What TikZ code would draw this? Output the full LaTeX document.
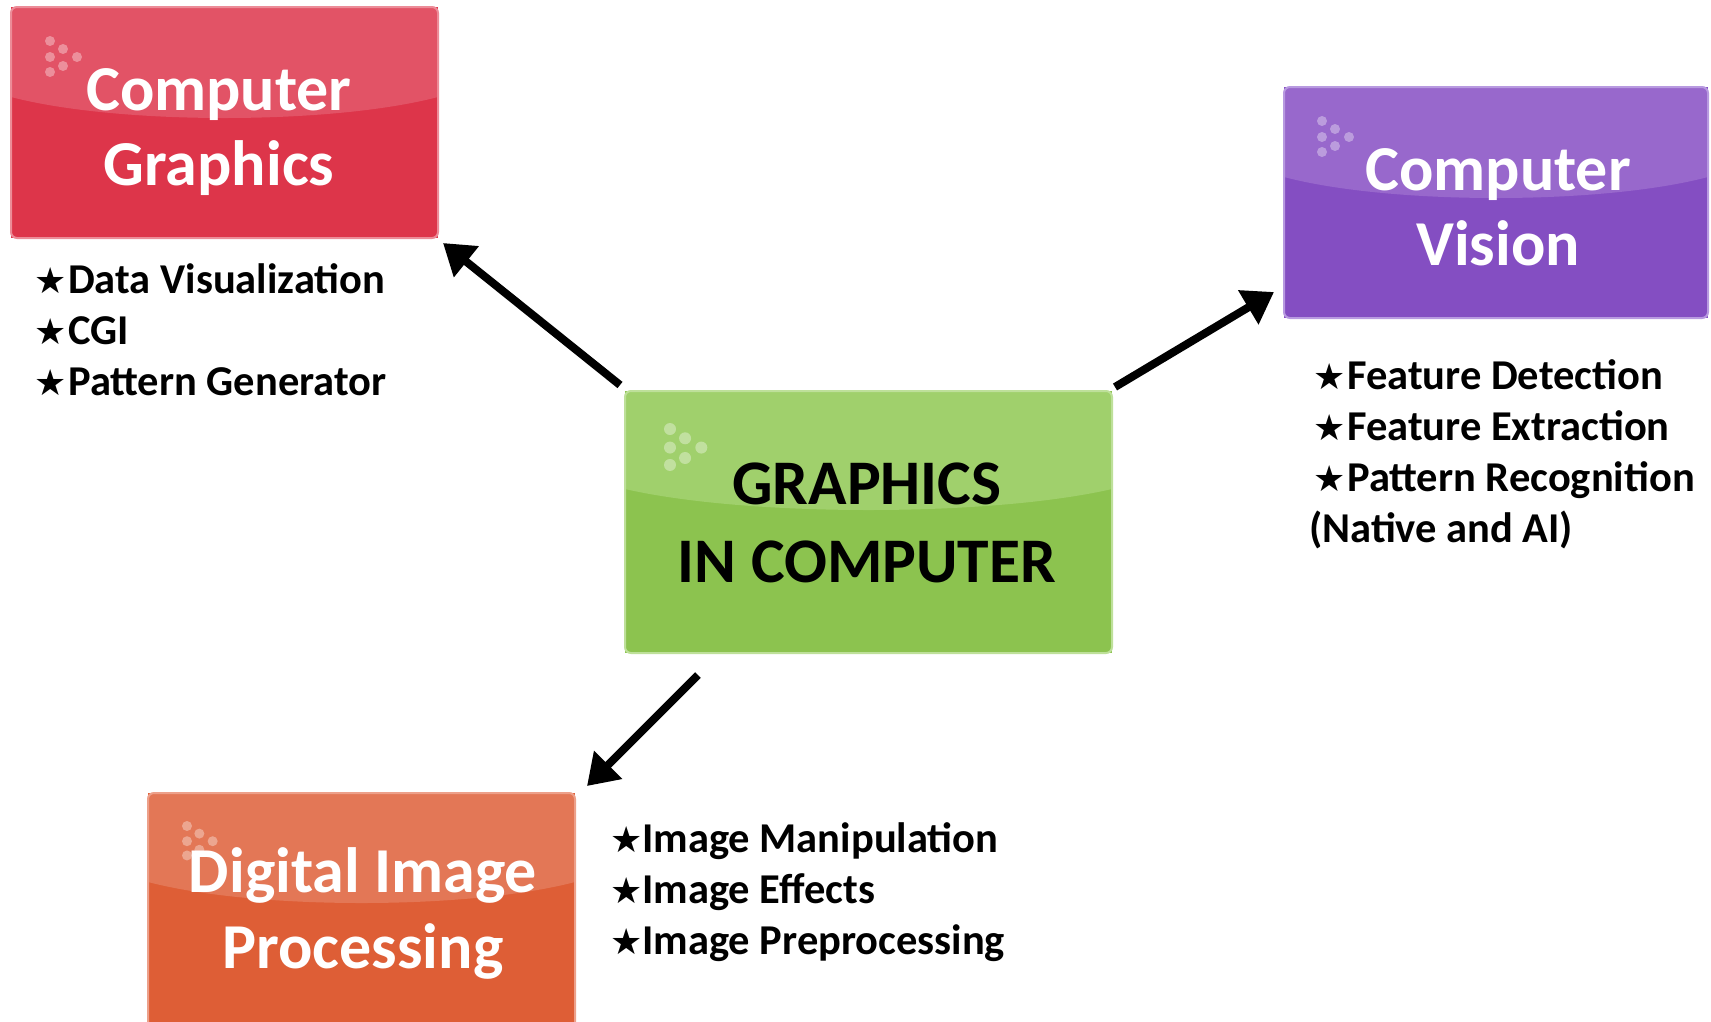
\documentclass[tikz,border=0pt]{standalone}
\usepackage{fontspec}
\setmainfont{Carlito}
\newfontfamily\symfont{DejaVu Sans}
\usetikzlibrary{arrows.meta}

\definecolor{redlo}{HTML}{DD354A}
\definecolor{redhi}{HTML}{E25366}
\definecolor{redrim}{HTML}{EC8C98}
\definecolor{grnlo}{HTML}{8CC34F}
\definecolor{grnhi}{HTML}{A0D06C}
\definecolor{grnrim}{HTML}{BEE09A}
\definecolor{purlo}{HTML}{844EC2}
\definecolor{purhi}{HTML}{9868CC}
\definecolor{purrim}{HTML}{B89AE0}
\definecolor{orglo}{HTML}{DE5E36}
\definecolor{orghi}{HTML}{E37756}
\definecolor{orgrim}{HTML}{EDA08A}

\tikzset{
  panel/.style={rectangle, inner sep=0pt, outer sep=0pt},
  boxtitle/.style={inner sep=0pt, anchor=base, text=white,
    font=\bfseries\fontsize{64}{64}\selectfont},
  item/.style={inner sep=0pt, anchor=base west,
    font=\bfseries\fontsize{42.5}{42.5}\selectfont},
  staricon/.style={inner sep=0pt, anchor=base west,
    font=\symfont\fontsize{36}{36}\selectfont},
  link/.style={line width=8pt, -{Triangle[length=30pt,width=38pt]}},
  dot/.style={fill=white, fill opacity=0.35}
}

% glossy panel: name, x0, y0, x1, y1, y of gloss edge, base, gloss, rim
\newcommand\glosspanel[9]{%
  \node[panel, fill=#7, minimum width={#4pt-#2pt}, minimum height={#5pt-#3pt}]
    (#1) at ({(#2+#4)/2},{(#3+#5)/2}) {};
  \begin{scope}
    \clip[rounded corners=6pt] (#2,#3) rectangle (#4,#5);
    \fill[#8] (#2,#3) -- (#4,#3) -- (#4,#6)
      .. controls ({#4-(#4-#2)*0.25},{#6+28}) and ({#2+(#4-#2)*0.25},{#6+28}) .. (#2,#6) -- cycle;
  \end{scope}
  \draw[#9, line width=2pt, rounded corners=6pt] (#2,#3) rectangle (#4,#5);
}

% cluster of six soft dots: top-left x, y, spacing scale, radius
\newcommand\dotcluster[4]{%
  \foreach \dx/\dy in {0/0, 13/8, 0/16, 27/16, 13/25, 0/31}
    \fill[dot] ({#1+\dx*#3},{#2+\dy*#3}) circle (#4);
}

\begin{document}
\begin{tikzpicture}[x=1pt, y=-1pt]
  \useasboundingbox (0,0) rectangle (1711,1021);
  \fill[white] (0,0) rectangle (1711,1021);

  % the four panels
  \glosspanel{cg}{11}{7}{438}{238}{97}{redlo}{redhi}{redrim}
  \glosspanel{cv}{1284}{87}{1708}{318}{177}{purlo}{purhi}{purrim}
  \glosspanel{gic}{625}{391}{1112}{653}{489}{grnlo}{grnhi}{grnrim}
  \glosspanel{dip}{148}{793}{575}{1035}{882}{orglo}{orghi}{orgrim}

  \dotcluster{50}{41}{1}{5pt}
  \dotcluster{1322}{121}{1}{5pt}
  \dotcluster{670}{429}{1.16}{6pt}
  \dotcluster{187}{826}{0.95}{5pt}

  % panel titles
  \node[boxtitle] (cg1) at (219,110) {Computer};
  \node[boxtitle] (cg2) at (219,185) {Graphics};
  \node[boxtitle] (cv1) at (1498,190) {Computer};
  \node[boxtitle] (cv2) at (1498,265) {Vision};
  \node[boxtitle, text=black, font=\bfseries\fontsize{63.5}{63.5}\selectfont] (gic1) at (867,504) {GRAPHICS};
  \node[boxtitle, text=black, font=\bfseries\fontsize{63.5}{63.5}\selectfont] (gic2) at (867,582) {IN COMPUTER};
  \node[boxtitle] (dip1) at (363,892) {Digital Image};
  \node[boxtitle] (dip2) at (363,968) {Processing};

  % lists
  \node[staricon] (cgs1) at (34,293) {★};
  \node[item] (cgt1) at (68,293) {Data Visualization};
  \node[staricon] (cgs2) at (34,344) {★};
  \node[item] (cgt2) at (68,344) {CGI};
  \node[staricon] (cgs3) at (34,395) {★};
  \node[item] (cgt3) at (68,395) {Pattern Generator};

  \node[staricon] (cvs1) at (1313,389) {★};
  \node[item] (cvt1) at (1347,389) {Feature Detection};
  \node[staricon] (cvs2) at (1313,440) {★};
  \node[item] (cvt2) at (1347,440) {Feature Extraction};
  \node[staricon] (cvs3) at (1313,491) {★};
  \node[item] (cvt3) at (1347,491) {Pattern Recognition};
  \node[item] (cvt4) at (1309,542) {(Native and AI)};

  \node[staricon] (dips1) at (610,852) {★};
  \node[item] (dipt1) at (642,852) {Image Manipulation};
  \node[staricon] (dips2) at (610,903) {★};
  \node[item] (dipt2) at (642,903) {Image Effects};
  \node[staricon] (dips3) at (610,954) {★};
  \node[item] (dipt3) at (642,954) {Image Preprocessing};

  % connectors
  \draw[link] ([shift={(-5,-6)}]gic.north west) -- ([shift={(5,5)}]cg.south east);
  \draw[link] ([shift={(3,-4)}]gic.north east) -- ([shift={(-10,-26)}]cv.south west);
  \draw[link] ([shift={(73,22)}]gic.south west) -- ([shift={(12,-7)}]dip.north east);
\end{tikzpicture}
\end{document}
